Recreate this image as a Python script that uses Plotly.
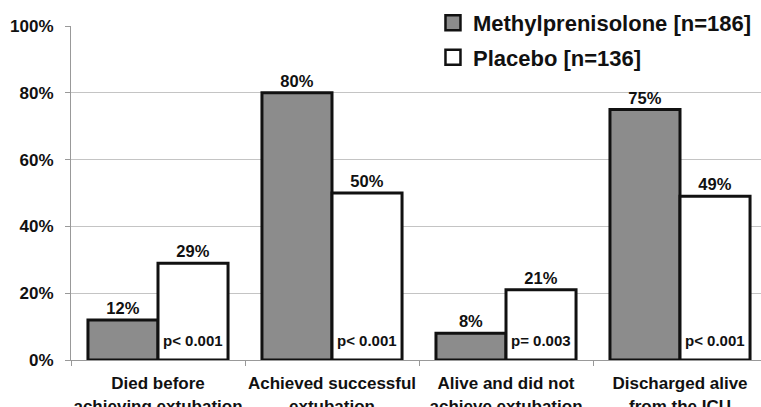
import plotly.graph_objects as go

categories = ["Died before<br>achieving extubation", "Achieved successful<br>extubation",
              "Alive and did not<br>achieve extubation", "Discharged alive<br>from the ICU"]
methyl = [12, 80, 8, 75]
placebo = [29, 50, 21, 49]
pvalues = ["p< 0.001", "p< 0.001", "p= 0.003", "p< 0.001"]
names = ["Methylprenisolone [n=186]", "Placebo [n=136]"]
yticks = [0, 20, 40, 60, 80, 100]

FONT = "Liberation Sans, Arial, sans-serif"
INK = "#111111"
W = 0.4025
fig = go.Figure()
fig.add_trace(go.Bar(x=categories, y=methyl, name=names[0], showlegend=False, legendgroup="m",
                     offset=-W, width=W,
                     marker=dict(color="#8c8c8c", line=dict(color=INK, width=3)),
                     text=[f"{v}%" for v in methyl], textposition="outside", cliponaxis=False,
                     textfont=dict(family=FONT, size=16.5, color=INK, weight="bold")))
fig.add_trace(go.Bar(x=categories, y=placebo, name=names[1], showlegend=False, legendgroup="p",
                     offset=0, width=W,
                     marker=dict(color="white", line=dict(color=INK, width=3)),
                     text=[f"{v}%" for v in placebo], textposition="outside", cliponaxis=False,
                     textfont=dict(family=FONT, size=16.5, color=INK, weight="bold")))
# legend entries
fig.add_trace(go.Scatter(x=[None], y=[None], mode="markers", name=names[0], legendgroup="m",
                         marker=dict(symbol="square", size=15, color="#8c8c8c",
                                     line=dict(color=INK, width=2.5))))
fig.add_trace(go.Scatter(x=[None], y=[None], mode="markers", name=names[1], legendgroup="p",
                         marker=dict(symbol="square", size=15, color="white",
                                     line=dict(color=INK, width=2.5))))

for i, p in enumerate(pvalues):
    fig.add_annotation(x=i + W / 2, y=0, xref="x", yref="y", text=p, showarrow=False,
                       yanchor="bottom", yshift=9,
                       font=dict(family=FONT, size=15, color=INK, weight="bold"))

fig.update_layout(
    width=761, height=407,
    margin=dict(l=71, r=0, t=26, b=47, autoexpand=False),
    paper_bgcolor="white", plot_bgcolor="white",
    barmode="overlay",
    font=dict(family=FONT, size=16, color=INK),
    legend=dict(x=0.5246, y=1.072, xanchor="left", yanchor="top", bgcolor="white",
                font=dict(family=FONT, size=22, color=INK, weight="bold"), tracegroupgap=3),
    showlegend=True,
)
fig.update_xaxes(type="category", range=[-0.5, -0.5 + 690 / 174], tickson="boundaries",
                 automargin=False, tickangle=0,
                 ticks="outside", ticklen=5, tickcolor="#999999", showline=True, linecolor="#999999",
                 linewidth=1, showgrid=False, ticklabelstandoff=8,
                 tickfont=dict(family=FONT, size=17, color=INK, weight="bold"))
fig.update_yaxes(range=[0, 100], tickvals=yticks, ticktext=[f"{v}%" for v in yticks],
                 automargin=False,
                 showgrid=True, gridcolor="#c4c4c4", gridwidth=1, showline=True, linecolor="#999999",
                 ticks="outside", ticklen=5, tickcolor="#999999", zeroline=False,
                 ticklabelstandoff=8, tickfont=dict(family=FONT, size=17, color=INK, weight="bold"))
fig.write_html("out.html", config={"displayModeBar": False},
               post_script="document.body.style.margin='0';document.body.style.overflow='hidden';")
